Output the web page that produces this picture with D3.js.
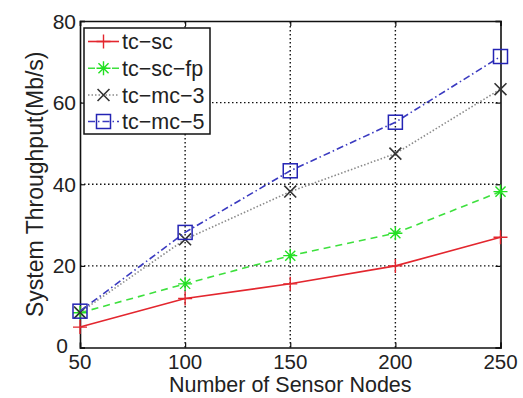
<!DOCTYPE html>
<html>
<head>
<meta charset="utf-8">
<script src="https://cdn.jsdelivr.net/npm/d3@7/dist/d3.min.js"></script>
<style>
  html, body { margin: 0; padding: 0; background: #fff; }
  svg { display: block; }
  text { font-family: "Liberation Sans", Arial, Helvetica, sans-serif; fill: #222; }
</style>
</head>
<body>
<svg id="chart" width="523" height="398"></svg>
<script>
// ---- data ----
const nodes = [50, 100, 150, 200, 250];
const xTicks = [50, 100, 150, 200, 250];
const yTicks = [0, 20, 40, 60, 80];
const seriesNames = ["tc\u2212sc", "tc\u2212sc\u2212fp", "tc\u2212mc\u22123", "tc\u2212mc\u22125"];
const tcSc   = [5.0, 12.0, 15.6, 20.0, 27.0];
const tcScFp = [8.5, 15.6, 22.5, 28.0, 38.2];
const tcMc3  = [8.6, 26.5, 38.2, 47.5, 63.3];
const tcMc5  = [8.9, 28.2, 43.3, 55.2, 71.3];

const styles = [
  { color: "#e3262e", dash: null,        marker: "plus",   width: 1.6, mcolor: "#e3262e" },
  { color: "#3ee03e", dash: "7,5",       marker: "star",   width: 1.6, mcolor: "#22e022" },
  { color: "#8a8a8a", dash: "1.5,2",     marker: "cross",  width: 1.6, mcolor: "#333333" },
  { color: "#3a3ac0", dash: "7,3,1.5,3", marker: "square", width: 1.6, mcolor: "#2424b4" }
];
const allSeries = [tcSc, tcScFp, tcMc3, tcMc5];

const svg = d3.select("#chart");
const m = { left: 80, right: 22.5, top: 21, bottom: 50.5 };
const W = 523, H = 398;
const x = d3.scaleLinear().domain([50, 250]).range([m.left, W - m.right]);
const y = d3.scaleLinear().domain([0, 80]).range([H - m.bottom, m.top]);

// grid
const grid = svg.append("g");
grid.selectAll("line.gx").data(xTicks.slice(1, -1)).enter().append("line")
  .attr("x1", d => x(d)).attr("x2", d => x(d))
  .attr("y1", y(0)).attr("y2", y(80))
  .attr("stroke", "#111").attr("stroke-width", 1.4).attr("stroke-dasharray", "1.5,2.5");
grid.selectAll("line.gy").data(yTicks.slice(1, -1)).enter().append("line")
  .attr("y1", d => y(d)).attr("y2", d => y(d))
  .attr("x1", x(50)).attr("x2", x(250))
  .attr("stroke", "#111").attr("stroke-width", 1.4).attr("stroke-dasharray", "1.5,2.5");

// axes (ticks inside)
const xAxis = svg.append("g").attr("transform", `translate(0,${y(0)})`)
  .call(d3.axisBottom(x).tickValues(xTicks).tickSize(-5).tickFormat(""));
const xAxisTop = svg.append("g").attr("transform", `translate(0,${y(80)})`)
  .call(d3.axisTop(x).tickValues(xTicks).tickSize(-5).tickFormat(""));
const yAxis = svg.append("g").attr("transform", `translate(${x(50)},0)`)
  .call(d3.axisLeft(y).tickValues(yTicks).tickSize(-5).tickFormat(""));
const yAxisR = svg.append("g").attr("transform", `translate(${x(250)},0)`)
  .call(d3.axisRight(y).tickValues(yTicks).tickSize(-5).tickFormat(""));
[xAxis, xAxisTop, yAxis, yAxisR].forEach(g => {
  g.selectAll("path").attr("stroke", "#111").attr("stroke-width", 1.6);
  g.selectAll("line").attr("stroke", "#111").attr("stroke-width", 1.2);
});

// tick labels
svg.append("g").selectAll("text").data(xTicks).enter().append("text")
  .attr("x", d => x(d)).attr("y", 369)
  .attr("text-anchor", "middle").attr("font-size", 20.5)
  .text(d => d);
svg.append("g").selectAll("text").data(yTicks).enter().append("text")
  .attr("x", d => d === 0 ? 68 : 76).attr("y", d => y(d) + (d === 0 ? 5.5 : 7.5))
  .attr("text-anchor", "end").attr("font-size", 21)
  .text(d => d);

// axis titles
svg.append("text").attr("x", x(150)).attr("y", 392)
  .attr("text-anchor", "middle").attr("font-size", 21.5)
  .text("Number of Sensor Nodes");
svg.append("text")
  .attr("transform", `translate(43,${(y(0) + y(80)) / 2}) rotate(-90)`)
  .attr("text-anchor", "middle").attr("font-size", 23)
  .text("System Throughput(Mb/s)");

// marker drawing
function drawMarker(g, type, cx, cy, color) {
  const s = 7;
  if (type === "plus") {
    g.append("path").attr("d", `M${cx - s},${cy}H${cx + s}M${cx},${cy - s}V${cy + s}`)
      .attr("stroke", color).attr("stroke-width", 1.4).attr("fill", "none");
  } else if (type === "star") {
    const d = s * 0.72;
    g.append("path").attr("d",
      `M${cx - s},${cy}H${cx + s}M${cx},${cy - s}V${cy + s}` +
      `M${cx - d},${cy - d}L${cx + d},${cy + d}M${cx - d},${cy + d}L${cx + d},${cy - d}`)
      .attr("stroke", color).attr("stroke-width", 1.4).attr("fill", "none");
  } else if (type === "cross") {
    const d = s * 0.85;
    g.append("path").attr("d",
      `M${cx - d},${cy - d}L${cx + d},${cy + d}M${cx - d},${cy + d}L${cx + d},${cy - d}`)
      .attr("stroke", color).attr("stroke-width", 1.6).attr("fill", "none");
  } else if (type === "square") {
    g.append("rect").attr("x", cx - s).attr("y", cy - s).attr("width", 2 * s).attr("height", 2 * s)
      .attr("stroke", color).attr("stroke-width", 1.5).attr("fill", "none");
  }
}

// series
const line = d3.line().x((d, i) => x(nodes[i])).y(d => y(d));
allSeries.forEach((vals, k) => {
  const st = styles[k];
  const g = svg.append("g");
  g.append("path").datum(vals).attr("d", line)
    .attr("fill", "none").attr("stroke", st.color).attr("stroke-width", st.width)
    .attr("stroke-dasharray", st.dash);
  vals.forEach((v, i) => drawMarker(g, st.marker, x(nodes[i]), y(v), st.mcolor));
});

// legend
const lg = svg.append("g");
lg.append("rect").attr("x", 84).attr("y", 28).attr("width", 126).attr("height", 106)
  .attr("fill", "#fff").attr("stroke", "#111").attr("stroke-width", 1.5);
const rowY = [41.5, 68.3, 95, 121.5];
seriesNames.forEach((name, k) => {
  const st = styles[k];
  lg.append("line").attr("x1", 88).attr("x2", 119).attr("y1", rowY[k]).attr("y2", rowY[k])
    .attr("stroke", st.color).attr("stroke-width", st.width).attr("stroke-dasharray", st.dash);
  drawMarker(lg, st.marker, 103.5, rowY[k], st.mcolor);
  lg.append("text").attr("x", 122).attr("y", rowY[k] + 7.5)
    .attr("font-size", 21.5).text(name);
});
</script>
</body>
</html>
